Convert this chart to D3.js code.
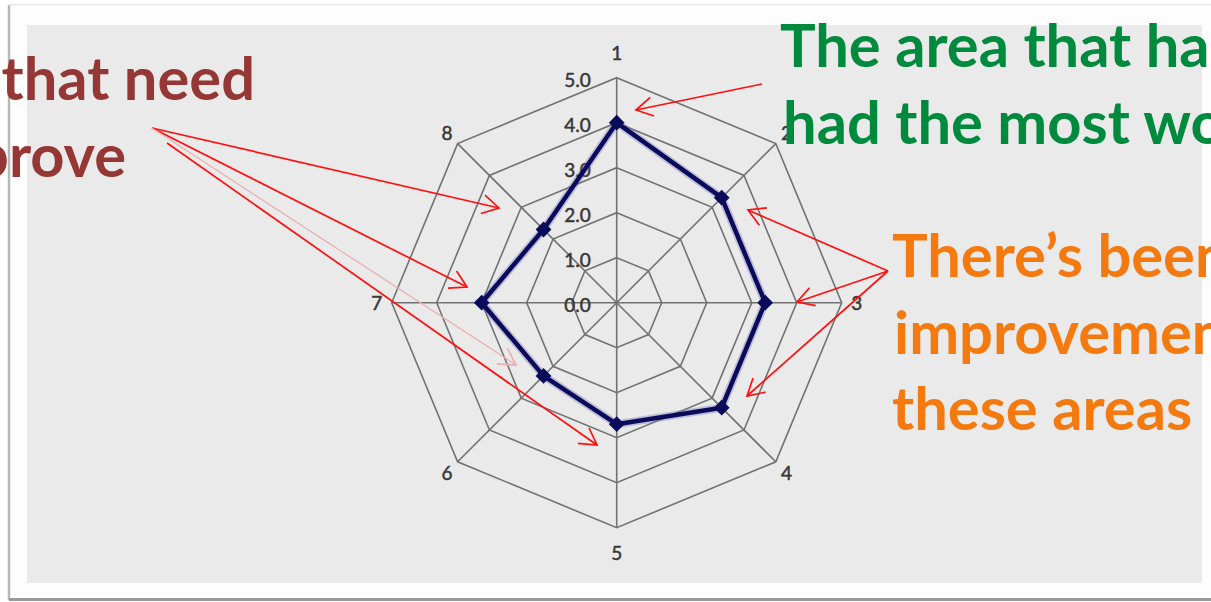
<!DOCTYPE html>
<html>
<head>
<meta charset="utf-8">
<script src="https://cdn.jsdelivr.net/npm/d3@7"></script>
<style>
  html, body { margin: 0; padding: 0; background: #ffffff; }
  svg { display: block; }
</style>
</head>
<body>
<svg id="chart" width="1211" height="602"></svg>
<script>
// ---------- data ----------
const categories = ["1", "2", "3", "4", "5", "6", "7", "8"];
const values = [4.0, 3.3, 3.3, 3.3, 2.7, 2.3, 3.0, 2.3];
const levels = [0, 1, 2, 3, 4, 5];
const levelLabels = ["0.0", "1.0", "2.0", "3.0", "4.0", "5.0"];
const noteRed = ["Areas that need", "to improve"];
const noteGreen = ["The area that has", "had the most work"];
const noteOrange = ["There\u2019s been", "improvement in", "these areas"];

// ---------- layout ----------
const W = 1211, H = 602;
const cx = 616.7, cy = 302.7, R = 225;
const svg = d3.select("#chart");

const rScale = d3.scaleLinear().domain([0, 5]).range([0, R]);
const aScale = d3.scaleLinear().domain([0, categories.length]).range([0, 2 * Math.PI]);

// page frame
svg.append("rect").attr("x", 0).attr("y", 0).attr("width", W).attr("height", H).attr("fill", "#ffffff");
svg.append("rect").attr("x", 8).attr("y", 4).attr("width", 1210).attr("height", 595)
  .attr("fill", "#fdfdfd").attr("stroke", "none");
svg.append("line").attr("x1", 9).attr("y1", 5).attr("x2", 9).attr("y2", 600)
  .attr("stroke", "#b8b8b8").attr("stroke-width", 2.5);
svg.append("line").attr("x1", 9).attr("y1", 4.5).attr("x2", W).attr("y2", 4.5)
  .attr("stroke", "#e6e6e6").attr("stroke-width", 1.5);
svg.append("line").attr("x1", 9).attr("y1", 599.5).attr("x2", W).attr("y2", 599.5)
  .attr("stroke", "#9a9a9a").attr("stroke-width", 3);
svg.append("rect").attr("x", 27).attr("y", 25).attr("width", 1175).attr("height", 558)
  .attr("fill", "#eaeaea");

const g = svg.append("g").attr("transform", `translate(${cx},${cy})`);

// rings
const ringLine = d3.lineRadial()
  .angle((d, i) => aScale(i))
  .radius(d => rScale(d))
  .curve(d3.curveLinearClosed);

g.selectAll("path.ring").data(levels.filter(l => l > 0)).join("path")
  .attr("class", "ring")
  .attr("d", l => ringLine(categories.map(() => l)))
  .attr("fill", "none").attr("stroke", "#727272").attr("stroke-width", 1.6);

// spokes
g.selectAll("line.spoke").data(categories).join("line")
  .attr("class", "spoke")
  .attr("x1", 0).attr("y1", 0)
  .attr("x2", (d, i) => d3.pointRadial(aScale(i), rScale(5))[0])
  .attr("y2", (d, i) => d3.pointRadial(aScale(i), rScale(5))[1])
  .attr("stroke", "#727272").attr("stroke-width", 1.6);

const labelFont = "Lato, 'Open Sans', sans-serif";

// level labels
g.selectAll("text.lvl").data(levels).join("text")
  .attr("class", "lvl")
  .attr("x", -26)
  .attr("y", l => -rScale(l) + 2)
  .attr("text-anchor", "end").attr("dominant-baseline", "central")
  .attr("font-family", labelFont).attr("font-size", 19)
  .attr("fill", "#383838").attr("stroke", "#383838").attr("stroke-width", 0.5)
  .text((l, i) => levelLabels[i]);

// category labels
g.selectAll("text.cat").data(categories).join("text")
  .attr("class", "cat")
  .attr("x", (d, i) => d3.pointRadial(aScale(i), 240)[0])
  .attr("y", (d, i) => {
    const a = aScale(i), c = Math.cos(a);
    return d3.pointRadial(a, 240)[1] - (Math.abs(c) > 0.99 ? Math.sign(c) * 10 : 0);
  })
  .attr("text-anchor", "middle").attr("dominant-baseline", "central")
  .attr("font-family", labelFont).attr("font-size", 19)
  .attr("fill", "#383838").attr("stroke", "#383838").attr("stroke-width", 0.5)
  .text(d => d);

// data series
const dataLine = d3.lineRadial()
  .angle((d, i) => aScale(i))
  .radius(d => rScale(d))
  .curve(d3.curveLinearClosed);

g.append("path").attr("d", dataLine(values))
  .attr("fill", "none").attr("stroke", "#6d6db5").attr("stroke-opacity", 0.35)
  .attr("stroke-width", 8).attr("stroke-linejoin", "round");
g.append("path").attr("d", dataLine(values))
  .attr("fill", "none").attr("stroke", "#0b0b5c")
  .attr("stroke-width", 4.5).attr("stroke-linejoin", "round");

const diamond = d3.symbol().type(d3.symbolSquare).size(125);
g.selectAll("path.mk").data(values).join("path")
  .attr("class", "mk")
  .attr("d", diamond)
  .attr("transform", (d, i) => {
    const p = d3.pointRadial(aScale(i), rScale(d));
    return `translate(${p[0]},${p[1]}) rotate(45)`;
  })
  .attr("fill", "#0b0b5c");

// ---------- annotations ----------
const defs = svg.append("defs");
function mkMarker(id, color) {
  defs.append("marker").attr("id", id)
    .attr("viewBox", "-20 -12 24 24").attr("refX", 0).attr("refY", 0)
    .attr("markerWidth", 24).attr("markerHeight", 24)
    .attr("markerUnits", "userSpaceOnUse").attr("orient", "auto")
    .append("path").attr("d", "M-16.5,-9.5 L0,0 L-16.5,9.5")
    .attr("fill", "none").attr("stroke", color).attr("stroke-width", 1.7);
}
mkMarker("arrRed", "#ff1010");
mkMarker("arrPink", "#eab0b0");

const arrows = [
  { x1: 152, y1: 128, x2: 499, y2: 208, c: "red" },
  { x1: 152, y1: 128, x2: 467, y2: 287, c: "red" },
  { x1: 167, y1: 143, x2: 597, y2: 445, c: "red" },
  { x1: 152, y1: 128, x2: 516, y2: 365, c: "pink" },
  { x1: 762, y1: 84, x2: 636, y2: 110, c: "red" },
  { x1: 888, y1: 271, x2: 748, y2: 210, c: "red" },
  { x1: 888, y1: 271, x2: 797, y2: 302, c: "red" },
  { x1: 888, y1: 271, x2: 747, y2: 396, c: "red" }
];
svg.selectAll("line.arrow").data(arrows).join("line")
  .attr("class", "arrow")
  .attr("x1", d => d.x1).attr("y1", d => d.y1)
  .attr("x2", d => d.x2).attr("y2", d => d.y2)
  .attr("stroke", d => d.c === "red" ? "#ff1010" : "#eab0b0")
  .attr("stroke-width", d => d.c === "red" ? 1.7 : 1.3)
  .attr("marker-end", d => d.c === "red" ? "url(#arrRed)" : "url(#arrPink)");

// font size fit for big notes
const noteFont = "Lato, 'Open Sans', sans-serif";
function widthAt(str, size) {
  const t = svg.append("text").attr("font-family", noteFont).attr("font-weight", 700)
    .attr("font-size", size).text(str);
  const w = t.node().getComputedTextLength();
  t.remove();
  return w;
}
const s1 = 100 * 345 / widthAt("had the most", 100);
const s2 = 100 * 302 / widthAt("these areas", 100);
const noteSize = (s1 + s2) / 2;

const clip = defs.append("clipPath").attr("id", "pageClip");
clip.append("rect").attr("x", 0).attr("y", 0).attr("width", W).attr("height", H);
const notes = svg.append("g").attr("clip-path", "url(#pageClip)")
  .attr("font-family", noteFont).attr("font-weight", 700).attr("font-size", noteSize);

notes.selectAll("text.red").data(noteRed).join("text")
  .attr("class", "red")
  .attr("x", (d, i) => [255, 126][i]).attr("y", (d, i) => 100 + i * 77)
  .attr("text-anchor", "end").attr("fill", "#953735").text(d => d);

notes.selectAll("text.green").data(noteGreen).join("text")
  .attr("class", "green")
  .attr("x", (d, i) => [780, 783][i]).attr("y", (d, i) => 67 + i * 76.5)
  .attr("fill", "#008a3e").text(d => d);

notes.selectAll("text.orange").data(noteOrange).join("text")
  .attr("class", "orange")
  .attr("x", (d, i) => [892, 894, 892][i]).attr("y", (d, i) => 277 + i * 76.5)
  .attr("fill", "#f47a10").text(d => d);
</script>
</body>
</html>
